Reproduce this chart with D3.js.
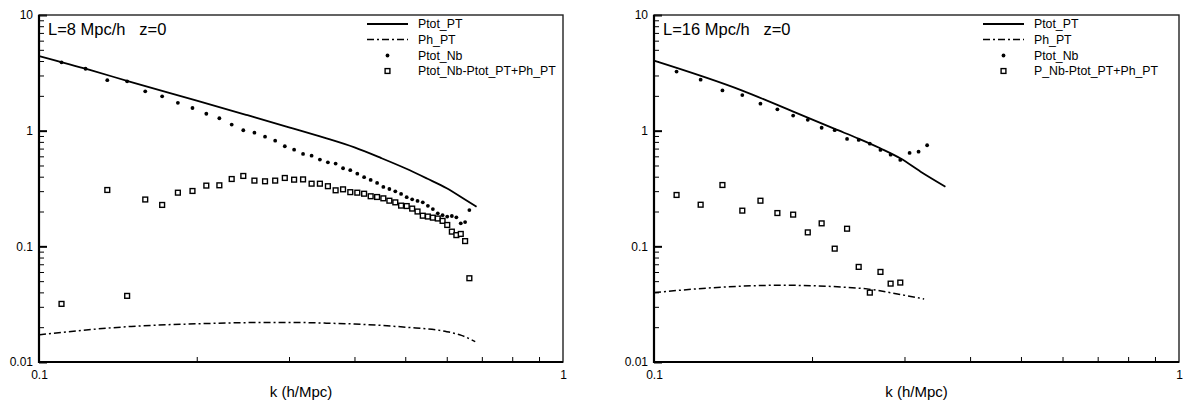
<!DOCTYPE html>
<html>
<head>
<meta charset="utf-8">
<script src="https://cdn.jsdelivr.net/npm/d3@7"></script>
<style>
  body { margin: 0; background: #fff; }
  svg { display: block; font-family: "Liberation Sans", Arial, sans-serif; }
  .tick text { font-size: 12px; fill: #000; }
</style>
</head>
<body>
<div id="chart"></div>
<script>
// Eixos (valores dos ticks)
const xMajor = [0.1, 1];
const xMajorLabels = ["0.1", "1"];
const yMajor = [0.01, 0.1, 1, 10];
const yMajorLabels = ["0.01", "0.1", "1", "10"];

// Painel L=8 Mpc/h
const k8 = [0.1104, 0.1227, 0.1350, 0.1473, 0.1595, 0.1718, 0.1841, 0.1963, 0.2086, 0.2209,
            0.2332, 0.2454, 0.2577, 0.2700, 0.2823, 0.2945, 0.3068, 0.3191, 0.3313, 0.3436,
            0.3559, 0.3682, 0.3804, 0.3927, 0.4050, 0.4173, 0.4295, 0.4418, 0.4541, 0.4663,
            0.4786, 0.4909, 0.5032, 0.5154, 0.5277, 0.5400, 0.5522, 0.5645, 0.5768, 0.5891,
            0.6013, 0.6136, 0.6259, 0.6381, 0.6504, 0.6627];
const ptotNb8 = [3.90, 3.43, 2.73, 2.67, 2.19, 1.98, 1.74, 1.57, 1.40, 1.28,
                 1.13, 1.008, 0.961, 0.887, 0.820, 0.733, 0.685, 0.629, 0.608, 0.562,
                 0.533, 0.519, 0.473, 0.455, 0.425, 0.396, 0.375, 0.353, 0.326, 0.313,
                 0.299, 0.284, 0.266, 0.255, 0.247, 0.240, 0.224, 0.210, 0.193, 0.186,
                 0.181, 0.183, 0.178, 0.158, 0.162, 0.206];
const diff8 = [0.0318, null, 0.307, 0.0373, 0.254, 0.228, 0.291, 0.301, 0.335, 0.337,
               0.382, 0.406, 0.370, 0.365, 0.370, 0.390, 0.377, 0.379, 0.348, 0.348,
               0.331, 0.305, 0.311, 0.294, 0.291, 0.285, 0.271, 0.267, 0.260, 0.248,
               0.240, 0.225, 0.223, 0.212, 0.200, 0.184, 0.181, 0.177, 0.174, 0.166,
               0.153, 0.134, 0.125, 0.128, 0.111, 0.0530];
const kPtotPT8 = [0.1, 0.125, 0.15, 0.2, 0.25, 0.3, 0.35, 0.4, 0.45, 0.5, 0.55, 0.6, 0.65, 0.684];
const ptotPT8 = [4.42, 3.35, 2.63, 1.82, 1.36, 1.07, 0.87, 0.716, 0.579, 0.473, 0.386, 0.318, 0.254, 0.220];
const kPhPT8 = [0.1, 0.15, 0.2, 0.25, 0.3, 0.35, 0.4, 0.5, 0.6, 0.64, 0.68];
const phPT8 = [0.0172, 0.0203, 0.0214, 0.0219, 0.0220, 0.0217, 0.0213, 0.0200, 0.0183, 0.0170, 0.0150];

// Painel L=16 Mpc/h
const k16 = [0.1104, 0.1227, 0.1350, 0.1473, 0.1595, 0.1718, 0.1841, 0.1963, 0.2086, 0.2209,
             0.2332, 0.2454, 0.2577, 0.2700, 0.2823, 0.2945, 0.3068, 0.3191, 0.3313];
const ptotNb16 = [3.24, 2.76, 2.23, 2.03, 1.71, 1.53, 1.35, 1.24, 1.06, 1.01,
                  0.848, 0.831, 0.772, 0.681, 0.620, 0.558, 0.642, 0.658, 0.748];
const diff16 = [0.278, 0.229, 0.339, 0.2035, 0.248, 0.194, 0.188, 0.132, 0.158, 0.0955,
                0.142, 0.0664, 0.0398, 0.0601, 0.0476, 0.0486];
const kPtotPT16 = [0.1, 0.1473, 0.1842, 0.2209, 0.2458, 0.2698, 0.2945, 0.322, 0.359];
const ptotPT16 = [4.03, 2.22, 1.46, 1.035, 0.85, 0.704, 0.577, 0.442, 0.328];
const kPhPT16 = [0.1, 0.134, 0.174, 0.227, 0.26, 0.283, 0.327];
const phPT16 = [0.0398, 0.0443, 0.0461, 0.0445, 0.0423, 0.0396, 0.0351];

const legend8 = ["Ptot_PT", "Ph_PT", "Ptot_Nb", "Ptot_Nb-Ptot_PT+Ph_PT"];
const legend16 = ["Ptot_PT", "Ph_PT", "Ptot_Nb", "P_Nb-Ptot_PT+Ph_PT"];

const panels = [
    { left: 39, right: 563, title: "L=8 Mpc/h   z=0", legend: legend8,
      k: k8, nb: ptotNb8, diff: diff8, kPT: kPtotPT8, pt: ptotPT8, kPh: kPhPT8, ph: phPT8 },
    { left: 654, right: 1179, title: "L=16 Mpc/h   z=0", legend: legend16,
      k: k16, nb: ptotNb16, diff: diff16, kPT: kPtotPT16, pt: ptotPT16, kPh: kPhPT16, ph: phPT16 }
];

const W = 1183, H = 404, plotTop = 15, plotBottom = 362;
const DASH = "7,3,2,3";

const svg = d3.select("#chart").append("svg")
    .attr("width", W).attr("height", H);

function drawPanel(p) {
    const x = d3.scaleLog().domain([0.1, 1]).range([p.left, p.right]);
    const y = d3.scaleLog().domain([0.01, 10]).range([plotBottom, plotTop]);
    const g = svg.append("g");

    // Ticks menores
    const yMinor = y.ticks().filter(v => !yMajor.some(m => Math.abs(m - v) < 1e-9));
    const xMinor = x.ticks().filter(v => !xMajor.some(m => Math.abs(m - v) < 1e-9));

    g.append("g")
        .attr("transform", `translate(${p.left},0)`)
        .call(d3.axisLeft(y).tickValues(yMinor).tickSize(-5).tickFormat(""))
        .call(a => a.select(".domain").remove())
        .selectAll("line").attr("stroke", "#000").attr("stroke-width", 1);

    g.append("g")
        .attr("transform", `translate(0,${plotBottom})`)
        .call(d3.axisBottom(x).tickValues(xMinor).tickSize(-5).tickFormat(""))
        .call(a => a.select(".domain").remove())
        .selectAll("line").attr("stroke", "#000").attr("stroke-width", 1);

    // Ticks maiores
    g.append("g")
        .attr("transform", `translate(${p.left},0)`)
        .call(d3.axisLeft(y).tickValues(yMajor).tickSize(-8).tickPadding(6)
            .tickFormat((d, i) => yMajorLabels[i]))
        .call(a => a.select(".domain").remove())
        .selectAll("line").attr("stroke", "#000").attr("stroke-width", 2);

    g.append("g")
        .attr("transform", `translate(0,${plotBottom})`)
        .call(d3.axisBottom(x).tickValues(xMajor).tickSize(0).tickPadding(8)
            .tickFormat((d, i) => xMajorLabels[i]))
        .call(a => a.select(".domain").remove());

    // Moldura
    g.append("rect")
        .attr("x", p.left).attr("y", plotTop)
        .attr("width", p.right - p.left).attr("height", plotBottom - plotTop)
        .attr("fill", "none").attr("stroke", "#222").attr("stroke-width", 1.4);
    g.append("path")
        .attr("d", `M${p.left},${plotTop}V${plotBottom}H${p.right}`)
        .attr("fill", "none").attr("stroke", "#000").attr("stroke-width", 2.2);

    // Titulo do eixo X
    g.append("text")
        .attr("x", (p.left + p.right) / 2).attr("y", 397)
        .attr("text-anchor", "middle").attr("font-size", "15px")
        .text("k (h/Mpc)");

    // Rotulo do painel
    g.append("text")
        .attr("x", p.left + 9).attr("y", 35)
        .attr("font-size", "16.5px")
        .style("white-space", "pre")
        .text(p.title);

    // Linhas
    const line = d3.line()
        .x(d => x(d[0])).y(d => y(d[1]))
        .curve(d3.curveMonotoneX);

    g.append("path")
        .datum(p.kPT.map((k, i) => [k, p.pt[i]]))
        .attr("d", line)
        .attr("fill", "none").attr("stroke", "#000").attr("stroke-width", 1.8);

    g.append("path")
        .datum(p.kPh.map((k, i) => [k, p.ph[i]]))
        .attr("d", line)
        .attr("fill", "none").attr("stroke", "#000").attr("stroke-width", 1.5)
        .attr("stroke-dasharray", DASH);

    // Pontos
    g.selectAll(".nb")
        .data(p.nb.map((v, i) => [p.k[i], v]))
        .enter().append("circle")
        .attr("class", "nb")
        .attr("cx", d => x(d[0])).attr("cy", d => y(d[1]))
        .attr("r", 1.9).attr("fill", "#000");

    g.selectAll(".diff")
        .data(p.diff.map((v, i) => [p.k[i], v]).filter(d => d[1] != null))
        .enter().append("rect")
        .attr("class", "diff")
        .attr("x", d => x(d[0]) - 2.4).attr("y", d => y(d[1]) - 2.4)
        .attr("width", 4.8).attr("height", 4.8)
        .attr("fill", "#fff").attr("stroke", "#000").attr("stroke-width", 1.4);

    // Legenda
    const lx0 = p.right - 196, lx1 = p.right - 155, lxm = (lx0 + lx1) / 2, tx = p.right - 145;
    const rows = [24, 39.5, 55.5, 71];
    const lg = g.append("g").attr("font-size", "12.3px");
    lg.append("line").attr("x1", lx0).attr("x2", lx1).attr("y1", rows[0]).attr("y2", rows[0])
        .attr("stroke", "#000").attr("stroke-width", 1.8);
    lg.append("line").attr("x1", lx0).attr("x2", lx1).attr("y1", rows[1]).attr("y2", rows[1])
        .attr("stroke", "#000").attr("stroke-width", 1.5).attr("stroke-dasharray", DASH);
    lg.append("circle").attr("cx", lxm).attr("cy", rows[2]).attr("r", 1.9).attr("fill", "#000");
    lg.append("rect").attr("x", lxm - 2.4).attr("y", rows[3] - 2.4).attr("width", 4.8).attr("height", 4.8)
        .attr("fill", "#fff").attr("stroke", "#000").attr("stroke-width", 1.4);
    lg.selectAll(".lt")
        .data(p.legend)
        .enter().append("text")
        .attr("class", "lt")
        .attr("x", tx).attr("y", (d, i) => rows[i] + 4.4)
        .text(d => d);
}

panels.forEach(drawPanel);
</script>
</body>
</html>
